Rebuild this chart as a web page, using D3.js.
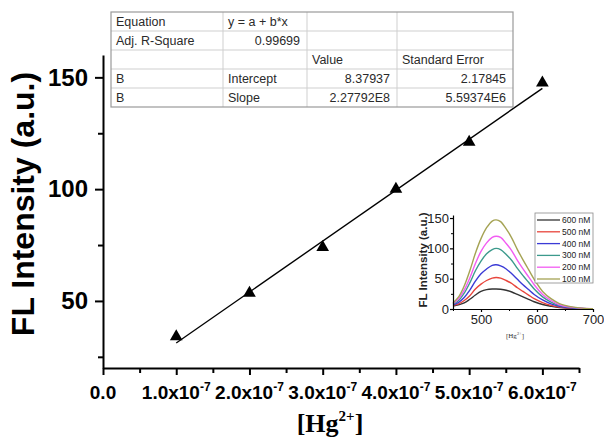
<!DOCTYPE html>
<html>
<head>
<meta charset="utf-8">
<script src="https://cdn.jsdelivr.net/npm/d3@7"></script>
<style>
  body { margin: 0; background: #fff; }
  svg { display: block; }
</style>
</head>
<body>
<svg id="chart" width="604" height="438"></svg>
<script>
'use strict';

//#region DATA
// calibration points
const hgConc = [1e-7, 2e-7, 3e-7, 4e-7, 5e-7, 6e-7];
const flIntensity = [34, 53.5, 74, 100, 121, 147.5];
// linear fit, drawn between first and last point
const fitConc = [1e-7, 6e-7];
const fitIntensity = [31.2, 145.1];

const xMajorTicks = [0, 1e-7, 2e-7, 3e-7, 4e-7, 5e-7, 6e-7];
const xMinorTicks = [0.5e-7, 1.5e-7, 2.5e-7, 3.5e-7, 4.5e-7, 5.5e-7, 6.5e-7];
const xTickBase = ['0.0', '1.0x10', '2.0x10', '3.0x10', '4.0x10', '5.0x10', '6.0x10'];
const xTickExp = ['', '-7', '-7', '-7', '-7', '-7', '-7'];
const yMajorTicks = [50, 100, 150];
const yMinorTicks = [25, 75, 125];

// fit result table
const tableRows = [
    ['Equation', 'y = a + b*x', '', ''],
    ['Adj. R-Square', '0.99699', '', ''],
    ['', '', 'Value', 'Standard Error'],
    ['B', 'Intercept', '8.37937', '2.17845'],
    ['B', 'Slope', '2.27792E8', '5.59374E6'],
];
const tableAlign = [
    ['start', 'start', 'start', 'start'],
    ['start', 'end', 'start', 'start'],
    ['start', 'start', 'start', 'start'],
    ['start', 'start', 'end', 'end'],
    ['start', 'start', 'end', 'end'],
];

// inset spectra
const wavelengths = [450, 460, 470, 480, 490, 500, 510, 520, 527, 535, 545, 555, 565, 575, 585, 595, 610, 625, 640, 660, 680, 700];
const spec600 = [5, 7, 10, 16, 23, 29, 32, 33, 33, 32.5, 31, 28, 24, 20, 16, 12, 7.5, 4.5, 2.2, 1, 0.4, 0.2];
const spec500 = [6, 8.5, 14, 22, 33, 41, 47, 51, 52, 51, 47, 42, 35, 29, 23, 17, 10.5, 6, 3, 1.4, 0.6, 0.2];
const spec400 = [7, 11, 19, 31, 46, 58, 66, 72, 73, 71, 66, 58, 49, 40, 32, 24, 15, 8.5, 4.5, 2, 0.8, 0.3];
const spec300 = [8, 14, 26, 43, 63, 79, 91, 98, 100, 98, 90, 80, 67, 55, 44, 33, 20, 11.5, 6, 2.7, 1, 0.3];
const spec200 = [9, 17, 31, 51, 75, 95, 109, 118, 120, 118, 108, 96, 80, 66, 53, 40, 24, 14, 7, 3, 1.2, 0.4];
const spec100 = [10, 20, 38, 63, 92, 116, 134, 145, 147, 144, 132, 117, 98, 81, 65, 49, 29, 17, 9, 4, 1.5, 0.5];
const spectraLabels = ['600 nM', '500 nM', '400 nM', '300 nM', '200 nM', '100 nM'];
const spectraColors = ['#333333', '#e8453c', '#3b3bd6', '#3c9a8c', '#f25cf2', '#a5a354'];
const insetXTicks = [500, 600, 700];
const insetXMinor = [450, 550, 650];
const insetYTicks = [0, 50, 100, 150];
const insetYMinor = [25, 75, 125];
//#endregion

const svg = d3.select('#chart');
const SANS = "'Liberation Sans', Arial, sans-serif";
const SERIF = "'Liberation Serif', 'Times New Roman', serif";

//#region MAIN PLOT
const x = d3.scaleLinear().domain([0, 6.5e-7]).range([103, 579]);
const y = d3.scaleLinear().domain([20, 160]).range([368, 55]);

function styleAxis(g, width) {
    g.select('.domain').attr('stroke', '#000').attr('stroke-width', width);
    g.selectAll('.tick line').attr('stroke', '#000').attr('stroke-width', width);
}

// x axis, majors then minors
const xAxisG = svg.append('g')
    .attr('transform', 'translate(0,368)')
    .call(d3.axisBottom(x).tickValues(xMajorTicks).tickSize(7).tickSizeOuter(0).tickFormat(''));
styleAxis(xAxisG, 2);

const xMinorG = svg.append('g')
    .attr('transform', 'translate(0,368)')
    .call(d3.axisBottom(x).tickValues(xMinorTicks).tickSize(5).tickSizeOuter(0).tickFormat(''));
xMinorG.select('.domain').remove();
styleAxis(xMinorG, 2);

// x tick labels with superscript exponent
const xLab = svg.append('g')
    .attr('font-family', SANS)
    .attr('font-weight', 'bold')
    .attr('font-size', 19)
    .attr('fill', '#000');
xMajorTicks.forEach((v, i) => {
    const t = xLab.append('text')
        .attr('x', x(v))
        .attr('y', 399)
        .attr('text-anchor', 'middle');
    t.append('tspan').text(xTickBase[i]);
    if (xTickExp[i]) {
        t.append('tspan').attr('dy', -8).attr('font-size', 12).text(xTickExp[i]);
    }
});

// y axis
const yAxisG = svg.append('g')
    .attr('transform', 'translate(103,0)')
    .call(d3.axisLeft(y).tickValues(yMajorTicks).tickSize(8).tickPadding(7).tickSizeOuter(0));
styleAxis(yAxisG, 2);
yAxisG.selectAll('.tick text')
    .attr('font-family', SANS)
    .attr('font-weight', 'bold')
    .attr('font-size', 24)
    .attr('fill', '#000');

const yMinorG = svg.append('g')
    .attr('transform', 'translate(103,0)')
    .call(d3.axisLeft(y).tickValues(yMinorTicks).tickSize(5).tickSizeOuter(0).tickFormat(''));
yMinorG.select('.domain').remove();
styleAxis(yMinorG, 2);

// axis titles
svg.append('text')
    .attr('transform', 'translate(34,204) rotate(-90)')
    .attr('text-anchor', 'middle')
    .attr('font-family', SANS)
    .attr('font-weight', 'bold')
    .attr('font-size', 32)
    .text('FL Intensity (a.u.)');

const xTitle = svg.append('text')
    .attr('x', 330)
    .attr('y', 432)
    .attr('text-anchor', 'middle')
    .attr('font-family', SERIF)
    .attr('font-weight', 'bold')
    .attr('font-size', 26);
xTitle.append('tspan').text('[Hg');
xTitle.append('tspan').attr('dy', -11).attr('font-size', 15).text('2+');
xTitle.append('tspan').attr('dy', 11).text(']');

// fit line
const fitData = fitConc.map((c, i) => [c, fitIntensity[i]]);
svg.append('path')
    .datum(fitData)
    .attr('fill', 'none')
    .attr('stroke', '#000')
    .attr('stroke-width', 1.4)
    .attr('d', d3.line().x(d => x(d[0])).y(d => y(d[1])));

// data markers
svg.selectAll('.marker')
    .data(hgConc)
    .enter()
    .append('path')
    .attr('class', 'marker')
    .attr('transform', (d, i) => `translate(${x(d)},${y(flIntensity[i])})`)
    .attr('d', d3.symbol().type(d3.symbolTriangle).size(70))
    .attr('fill', '#000');
//#endregion

//#region FIT TABLE
const colX = [111, 223, 307, 397, 513];
const rowY = [12, 31, 50, 69, 88, 107];
const table = svg.append('g')
    .attr('font-family', SANS)
    .attr('font-size', 12.5)
    .attr('fill', '#2a2a2a');

table.append('rect')
    .attr('x', colX[0]).attr('y', rowY[0])
    .attr('width', colX[4] - colX[0]).attr('height', rowY[5] - rowY[0])
    .attr('fill', '#fff');

for (let r = 1; r < rowY.length - 1; r++) {
    table.append('line')
        .attr('x1', colX[0]).attr('x2', colX[4])
        .attr('y1', rowY[r]).attr('y2', rowY[r])
        .attr('stroke', '#cfcfcf');
}
for (let c = 1; c < colX.length - 1; c++) {
    table.append('line')
        .attr('x1', colX[c]).attr('x2', colX[c])
        .attr('y1', rowY[0]).attr('y2', rowY[5])
        .attr('stroke', '#cfcfcf');
}
table.append('rect')
    .attr('x', colX[0]).attr('y', rowY[0])
    .attr('width', colX[4] - colX[0]).attr('height', rowY[5] - rowY[0])
    .attr('fill', 'none')
    .attr('stroke', '#9a9a9a')
    .attr('stroke-width', 1.2);

tableRows.forEach((row, r) => {
    row.forEach((cell, c) => {
        if (!cell) return;
        const right = tableAlign[r][c] === 'end';
        table.append('text')
            .attr('x', right ? colX[c + 1] - 7 : colX[c] + 5)
            .attr('y', rowY[r] + 13.5)
            .attr('text-anchor', right ? 'end' : 'start')
            .text(cell);
    });
});
//#endregion

//#region INSET
const ix = d3.scaleLinear().domain([450, 700]).range([453, 593]);
const iy = d3.scaleLinear().domain([0, 155]).range([309, 215]);
const spectra = [spec600, spec500, spec400, spec300, spec200, spec100];

const inset = svg.append('g');

const line = d3.line()
    .x((d, i) => ix(wavelengths[i]))
    .y(d => iy(d))
    .curve(d3.curveCatmullRom);

inset.selectAll('.spec')
    .data(spectra)
    .enter()
    .append('path')
    .attr('class', 'spec')
    .attr('fill', 'none')
    .attr('stroke', (d, i) => spectraColors[i])
    .attr('stroke-width', 1.4)
    .attr('d', line);

const ixAxis = inset.append('g')
    .attr('transform', 'translate(0,309)')
    .call(d3.axisBottom(ix).tickValues(insetXTicks).tickSize(3).tickSizeOuter(0));
styleAxis(ixAxis, 1.2);
const ixMinor = inset.append('g')
    .attr('transform', 'translate(0,309)')
    .call(d3.axisBottom(ix).tickValues(insetXMinor).tickSize(2).tickSizeOuter(0).tickFormat(''));
ixMinor.select('.domain').remove();
styleAxis(ixMinor, 1);

const iyAxis = inset.append('g')
    .attr('transform', 'translate(453,0)')
    .call(d3.axisLeft(iy).tickValues(insetYTicks).tickSize(3).tickPadding(1).tickSizeOuter(0));
styleAxis(iyAxis, 1.2);
const iyMinor = inset.append('g')
    .attr('transform', 'translate(453,0)')
    .call(d3.axisLeft(iy).tickValues(insetYMinor).tickSize(2).tickSizeOuter(0).tickFormat(''));
iyMinor.select('.domain').remove();
styleAxis(iyMinor, 1);

inset.selectAll('.tick text')
    .attr('font-family', SANS)
    .attr('font-size', 13)
    .attr('fill', '#222');

inset.append('text')
    .attr('transform', 'translate(427,260) rotate(-90)')
    .attr('text-anchor', 'middle')
    .attr('font-family', SANS)
    .attr('font-weight', 'bold')
    .attr('font-size', 11.5)
    .attr('fill', '#222')
    .text('FL Intensity (a.u.)');

const ixTitle = inset.append('text')
    .attr('x', 515)
    .attr('y', 338)
    .attr('text-anchor', 'middle')
    .attr('font-family', SERIF)
    .attr('font-size', 7)
    .attr('fill', '#333');
ixTitle.append('tspan').text('[Hg');
ixTitle.append('tspan').attr('dy', -3).attr('font-size', 4.5).text('2+');
ixTitle.append('tspan').attr('dy', 3).text(']');

// legend
const legend = inset.append('g');
legend.append('rect')
    .attr('x', 535).attr('y', 213)
    .attr('width', 58).attr('height', 70)
    .attr('fill', '#fff')
    .attr('stroke', '#8a8a8a')
    .attr('stroke-width', 0.8);
spectraLabels.forEach((label, i) => {
    const ly = 220 + i * 11.8;
    legend.append('line')
        .attr('x1', 537).attr('x2', 560)
        .attr('y1', ly).attr('y2', ly)
        .attr('stroke', spectraColors[i])
        .attr('stroke-width', 1.3);
    legend.append('text')
        .attr('x', 562).attr('y', ly)
        .attr('dy', '0.35em')
        .attr('font-family', SANS)
        .attr('font-size', 8.5)
        .attr('fill', '#222')
        .text(label);
});
//#endregion
</script>
</body>
</html>
